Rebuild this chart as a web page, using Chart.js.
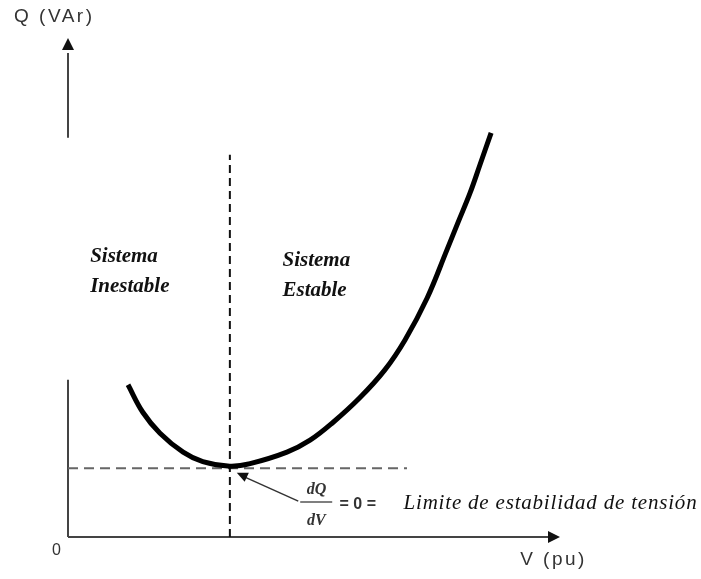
<!DOCTYPE html>
<html>
<head>
<meta charset="utf-8">
<script src="https://cdn.jsdelivr.net/npm/chart.js@4.4.1/dist/chart.umd.min.js"></script>
<style>
  html, body { margin: 0; padding: 0; background: #fff; }
  #wrap { width: 701px; height: 579px; }
</style>
</head>
<body>
<div id="wrap"><canvas id="qv-chart" width="701" height="579"></canvas></div>
<script>
// curva Q-V (unidades arbitrarias)
const voltage  = [1.22, 1.52, 1.87, 2.34, 2.74, 3.29, 3.70, 4.45, 4.92, 5.39, 5.93, 6.44, 6.85, 7.30, 7.70, 7.93, 8.17, 8.37, 8.60];
const reactive = [3.05, 2.50, 2.08, 1.70, 1.51, 1.42, 1.47, 1.70, 1.94, 2.30, 2.79, 3.35, 3.95, 4.79, 5.75, 6.31, 6.89, 7.45, 8.10];

// limite dQ/dV = 0
const limitV = [3.29, 3.29];
const limitVy = [0, 7.66];
const limitQx = [0, 6.89];
const limitQ = [1.38, 1.38];

const axisLabels = ['Q (VAr)', 'V (pu)', '0'];
const regionLabels = [['Sistema', 'Inestable'], ['Sistema', 'Estable']];
const limitText = 'Limite de estabilidad de tensión';

function toPoints(xs, ys) {
  return xs.map((x, i) => ({ x: x, y: ys[i] }));
}

function arrowHead(ctx, x1, y1, x2, y2, size, width) {
  const a = Math.atan2(y2 - y1, x2 - x1);
  ctx.beginPath();
  ctx.moveTo(x2, y2);
  ctx.lineTo(x2 - size * Math.cos(a) + width * Math.sin(a), y2 - size * Math.sin(a) - width * Math.cos(a));
  ctx.lineTo(x2 - size * Math.cos(a) - width * Math.sin(a), y2 - size * Math.sin(a) + width * Math.cos(a));
  ctx.closePath();
  ctx.fill();
}

const axesPlugin = {
  id: 'qvAxes',
  beforeDatasetsDraw(chart) {
    const ctx = chart.ctx;
    const xs = chart.scales.x, ys = chart.scales.y;
    const X = v => xs.getPixelForValue(v), Y = v => ys.getPixelForValue(v);
    ctx.save();
    ctx.strokeStyle = '#444';
    ctx.fillStyle = '#111';
    ctx.lineWidth = 2;
    // eje Q (partido)
    ctx.beginPath();
    ctx.moveTo(X(0), Y(0));
    ctx.lineTo(X(0), Y(3.15));
    ctx.moveTo(X(0), Y(8.0));
    ctx.lineTo(X(0), Y(9.7));
    ctx.stroke();
    arrowHead(ctx, X(0), Y(9), X(0), Y(10), 12, 6);
    // eje V
    ctx.beginPath();
    ctx.moveTo(X(0), Y(0));
    ctx.lineTo(X(9.8), Y(0));
    ctx.stroke();
    arrowHead(ctx, X(9), Y(0), X(10), Y(0), 12, 6);
    ctx.restore();
  },
  afterDatasetsDraw(chart) {
    const ctx = chart.ctx;
    const xs = chart.scales.x, ys = chart.scales.y;
    const X = v => xs.getPixelForValue(v), Y = v => ys.getPixelForValue(v);
    ctx.save();
    ctx.textBaseline = 'middle';
    ctx.fillStyle = '#333';
    ctx.letterSpacing = '2.5px';
    ctx.font = '19px "Liberation Sans", Arial, sans-serif';
    ctx.textAlign = 'left';
    ctx.fillText(axisLabels[0], 14, 17);
    ctx.fillText(axisLabels[1], X(9.19), Y(0) + 23);
    ctx.letterSpacing = '0px';
    ctx.font = '16px "Liberation Sans", Arial, sans-serif';
    ctx.fillText(axisLabels[2], X(0) - 16, Y(0) + 14);

    // regiones
    ctx.fillStyle = '#111';
    ctx.font = 'bold italic 21px "Liberation Serif", "Times New Roman", serif';
    ctx.fillText(regionLabels[0][0], X(0.45), Y(5.62));
    ctx.fillText(regionLabels[0][1], X(0.45), Y(5.02));
    ctx.fillText(regionLabels[1][0], X(4.36), Y(5.54));
    ctx.fillText(regionLabels[1][1], X(4.36), Y(4.94));

    // dQ/dV = 0 = ...
    ctx.font = 'italic bold 16px "Liberation Serif", serif';
    ctx.textAlign = 'center';
    ctx.fillStyle = '#333';
    ctx.fillText('dQ', X(5.05), Y(0.95));
    ctx.fillText('dV', X(5.05), Y(0.33));
    ctx.strokeStyle = '#555';
    ctx.lineWidth = 1.5;
    ctx.beginPath();
    ctx.moveTo(X(4.72), Y(0.70));
    ctx.lineTo(X(5.37), Y(0.70));
    ctx.stroke();
    ctx.font = 'bold 16px "Liberation Sans", sans-serif';
    ctx.textAlign = 'left';
    ctx.fillText('= 0 =', X(5.52), Y(0.65));
    ctx.fillStyle = '#111';
    ctx.font = 'italic 21px "Liberation Serif", "Times New Roman", serif';
    ctx.letterSpacing = '0.8px';
    ctx.fillText(limitText, X(6.82), Y(0.68));

    // flecha hacia el minimo
    ctx.letterSpacing = '0px';
    ctx.strokeStyle = '#333';
    ctx.fillStyle = '#111';
    ctx.lineWidth = 1.5;
    ctx.beginPath();
    ctx.moveTo(X(4.68), Y(0.72));
    ctx.lineTo(X(3.55), Y(1.22));
    ctx.stroke();
    arrowHead(ctx, X(4.68), Y(0.72), X(3.43), Y(1.29), 11, 5);
    ctx.restore();
  }
};

const ctx = document.getElementById('qv-chart');

const data = {
  datasets: [
    {
      label: 'Q-V',
      data: toPoints(voltage, reactive),
      borderColor: '#000',
      borderWidth: 5,
      pointRadius: 0,
      showLine: true,
      tension: 0.4
    },
    {
      label: 'V limite',
      data: toPoints(limitV, limitVy),
      borderColor: '#111',
      borderWidth: 2,
      borderDash: [8, 5],
      pointRadius: 0,
      showLine: true
    },
    {
      label: 'Q limite',
      data: toPoints(limitQx, limitQ),
      borderColor: '#666',
      borderWidth: 2,
      borderDash: [10, 6],
      pointRadius: 0,
      showLine: true
    }
  ]
};

const config = {
  type: 'scatter',
  data: data,
  options: {
    responsive: false,
    animation: false,
    layout: { padding: { left: 68, right: 141, top: 38, bottom: 42 } },
    plugins: {
      legend: { display: false },
      tooltip: { enabled: false }
    },
    scales: {
      x: { type: 'linear', min: 0, max: 10, display: false },
      y: { type: 'linear', min: 0, max: 10, display: false }
    }
  },
  plugins: [axesPlugin]
};

chartInstance = new Chart(ctx, config);
</script>
</body>
</html>
